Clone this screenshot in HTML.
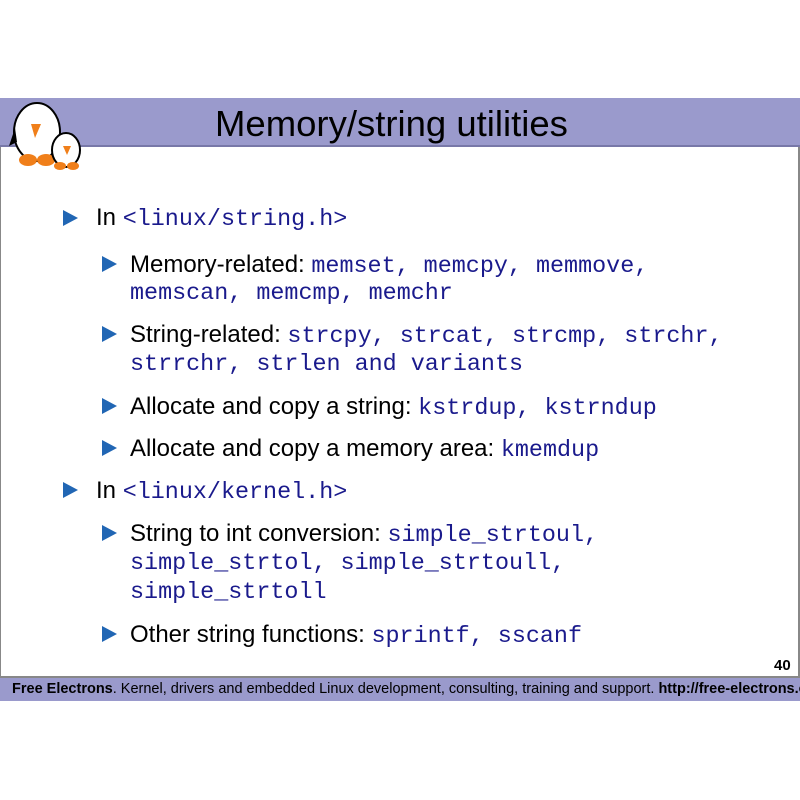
<!DOCTYPE html>
<html><head><style>
body{margin:0;width:800px;height:800px;background:#fff;position:relative;overflow:hidden;font-family:"Liberation Sans",sans-serif;}
.hdr{position:absolute;left:0;top:98px;width:800px;height:47px;background:#9a9acc;border-bottom:2px solid #7878a8;}
.box{position:absolute;left:0;top:147px;width:797px;height:529px;border-left:1px solid #888;border-right:2px solid #888;border-bottom:2px solid #888;}
.ftr{position:absolute;left:0;top:678px;width:800px;height:23px;background:#9a9acc;font-size:14.5px;line-height:23px;white-space:nowrap;overflow:hidden;padding-left:12px;box-sizing:border-box;color:#000;}
.t{position:absolute;font-size:24px;white-space:nowrap;line-height:28px;color:#000;}
.m{font-family:"Liberation Mono",monospace;color:#1a1a8c;font-size:23.4px;}
.b{position:absolute;width:0;height:0;border-top:8px solid transparent;border-bottom:8px solid transparent;border-left:15px solid #2166b4;}
</style></head><body>
<div class="hdr"></div>
<div style="position:absolute;left:215px;top:103px;font-size:36.5px;">Memory/string utilities</div>
<svg style="position:absolute;left:0;top:98px" width="100" height="75">
<ellipse cx="37" cy="34" rx="23" ry="29" fill="#fff" stroke="#000" stroke-width="2"/>
<path d="M15 30 L9 48 L17 44Z" fill="#000"/>
<path d="M31 26 L41 26 L35 40Z" fill="#f07f1a"/>
<ellipse cx="28" cy="62" rx="9" ry="6" fill="#f07f1a"/><ellipse cx="46" cy="62" rx="9" ry="6" fill="#f07f1a"/>
<ellipse cx="66" cy="52" rx="14" ry="17" fill="#fff" stroke="#000" stroke-width="2"/>
<path d="M63 48 L71 48 L67 57Z" fill="#f07f1a"/>
<ellipse cx="60" cy="68" rx="6" ry="4" fill="#f07f1a"/><ellipse cx="73" cy="68" rx="6" ry="4" fill="#f07f1a"/>
</svg>
<div class="box"></div>

<div class="b" style="left:63px;top:210px"></div>
<div class="t" style="left:96px;top:204px">In <span class="m">&lt;linux/string.h&gt;</span></div>

<div class="b" style="left:102px;top:256px"></div>
<div class="t" style="left:130px;top:251px">Memory-related: <span class="m">memset, memcpy, memmove,</span></div>
<div class="t" style="left:130px;top:278px"><span class="m">memscan, memcmp, memchr</span></div>

<div class="b" style="left:102px;top:326px"></div>
<div class="t" style="left:130px;top:321px">String-related: <span class="m">strcpy, strcat, strcmp, strchr,</span></div>
<div class="t" style="left:130px;top:349px"><span class="m">strrchr, strlen and variants</span></div>

<div class="b" style="left:102px;top:398px"></div>
<div class="t" style="left:130px;top:393px">Allocate and copy a string: <span class="m">kstrdup, kstrndup</span></div>

<div class="b" style="left:102px;top:440px"></div>
<div class="t" style="left:130px;top:435px">Allocate and copy a memory area: <span class="m">kmemdup</span></div>

<div class="b" style="left:63px;top:482px"></div>
<div class="t" style="left:96px;top:477px">In <span class="m">&lt;linux/kernel.h&gt;</span></div>

<div class="b" style="left:102px;top:525px"></div>
<div class="t" style="left:130px;top:520px">String to int conversion: <span class="m">simple_strtoul,</span></div>
<div class="t" style="left:130px;top:548px"><span class="m">simple_strtol, simple_strtoull,</span></div>
<div class="t" style="left:130px;top:577px"><span class="m">simple_strtoll</span></div>

<div class="b" style="left:102px;top:626px"></div>
<div class="t" style="left:130px;top:621px">Other string functions: <span class="m">sprintf, sscanf</span></div>

<div style="position:absolute;left:774px;top:657px;font-size:15px;font-weight:bold;">40</div>
<div class="ftr"><b>Free Electrons</b>. Kernel, drivers and embedded Linux development, consulting, training and support. <b>http://free-electrons.com</b></div>
</body></html>
